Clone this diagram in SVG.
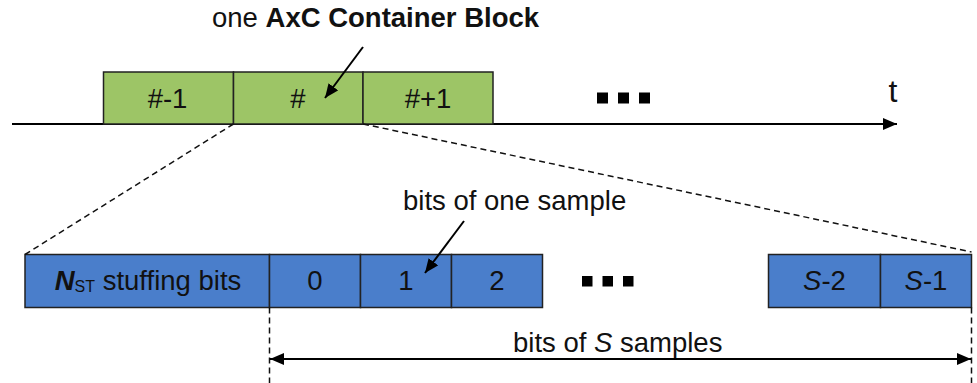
<svg xmlns="http://www.w3.org/2000/svg" width="977" height="383" viewBox="0 0 977 383">
  <style>
    text { font-family: "Liberation Sans", Arial, sans-serif; fill: #111; font-size: 27.5px; }
    .lbl { text-anchor: middle; }
    .green { fill: #9DC566; stroke: #222; stroke-width: 1.5; }
    .blue { fill: #4A7ECB; stroke: #222; stroke-width: 1.5; }
    .solid { stroke: #000; stroke-width: 2; fill: none; }
    .dash { stroke: #111; stroke-width: 1.5; stroke-dasharray: 6 4; fill: none; }
    .dot { fill: #000; }
  </style>
  <defs>
    <marker id="head" viewBox="0 0 14 12" refX="14" refY="6" markerWidth="14" markerHeight="12" markerUnits="userSpaceOnUse" orient="auto-start-reverse">
      <path d="M0,0 L14,6 L0,12 Z" fill="#000"/>
    </marker>
  </defs>

  <!-- time axis -->
  <g id="axis">
    <line class="solid" x1="12" y1="124" x2="897" y2="124" marker-end="url(#head)"/>
    <text x="893" y="102" style="font-size:32px" text-anchor="middle">t</text>
  </g>

  <!-- container blocks on the time axis -->
  <g id="block-prev">
    <rect class="green" x="103.5" y="72" width="130" height="52"/>
    <text class="lbl" x="167.5" y="107.5">#-1</text>
  </g>
  <g id="block-cur">
    <rect class="green" x="233.5" y="72" width="129.5" height="52"/>
    <text class="lbl" x="298" y="107.5">#</text>
  </g>
  <g id="block-next">
    <rect class="green" x="363" y="72" width="130" height="52"/>
    <text class="lbl" x="428" y="107.5">#+1</text>
  </g>
  <g id="dots-top">
    <rect class="dot" x="597" y="92.5" width="11" height="11"/>
    <rect class="dot" x="618" y="92.5" width="11" height="11"/>
    <rect class="dot" x="639" y="92.5" width="11" height="11"/>
  </g>

  <g id="title">
    <text x="212" y="27">one <tspan font-weight="bold">AxC Container Block</tspan></text>
  </g>

  <!-- bit layout of one block -->
  <g id="stuffing">
    <rect class="blue" x="25" y="254.5" width="244.5" height="53"/>
    <text x="148" y="289.5" text-anchor="middle"><tspan font-weight="bold" font-style="italic">N</tspan><tspan dy="2" style="font-size:16px">ST</tspan><tspan dy="-2"> stuffing bits</tspan></text>
  </g>
  <g id="sample-0">
    <rect class="blue" x="269.5" y="254.5" width="91" height="53"/>
    <text class="lbl" x="315" y="289.5">0</text>
  </g>
  <g id="sample-1">
    <rect class="blue" x="360.5" y="254.5" width="91" height="53"/>
    <text class="lbl" x="406" y="289.5">1</text>
  </g>
  <g id="sample-2">
    <rect class="blue" x="451.5" y="254.5" width="91" height="53"/>
    <text class="lbl" x="497" y="289.5">2</text>
  </g>
  <g id="dots-bottom">
    <rect class="dot" x="582" y="276" width="10.5" height="10.5"/>
    <rect class="dot" x="602.5" y="276" width="10.5" height="10.5"/>
    <rect class="dot" x="623" y="276" width="10.5" height="10.5"/>
  </g>
  <g id="sample-s2">
    <rect class="blue" x="768.5" y="254.5" width="112" height="53"/>
    <text class="lbl" x="824.5" y="289.5"><tspan font-style="italic">S</tspan>-2</text>
  </g>
  <g id="sample-s1">
    <rect class="blue" x="880.5" y="254.5" width="91" height="53"/>
    <text class="lbl" x="926" y="289.5"><tspan font-style="italic">S</tspan>-1</text>
  </g>

  <g id="caption-sample">
    <text x="403" y="210">bits of one sample</text>
  </g>
  <g id="caption-samples">
    <text x="513" y="352">bits of <tspan font-style="italic">S</tspan> samples</text>
  </g>

  <!-- connectors -->
  <g id="connectors">
    <line class="dash" x1="233.5" y1="124" x2="25" y2="254.5"/>
    <line class="dash" x1="363" y1="124" x2="971.5" y2="252"/>
    <line class="dash" x1="269.5" y1="307.5" x2="269.5" y2="383"/>
    <line class="dash" x1="971.5" y1="307.5" x2="971.5" y2="383"/>
    <line class="solid" x1="270" y1="359" x2="971" y2="359" marker-start="url(#head)" marker-end="url(#head)"/>
    <line class="solid" x1="363" y1="47" x2="325" y2="98" marker-end="url(#head)"/>
    <line class="solid" x1="464" y1="221" x2="425" y2="273" marker-end="url(#head)"/>
  </g>
</svg>
